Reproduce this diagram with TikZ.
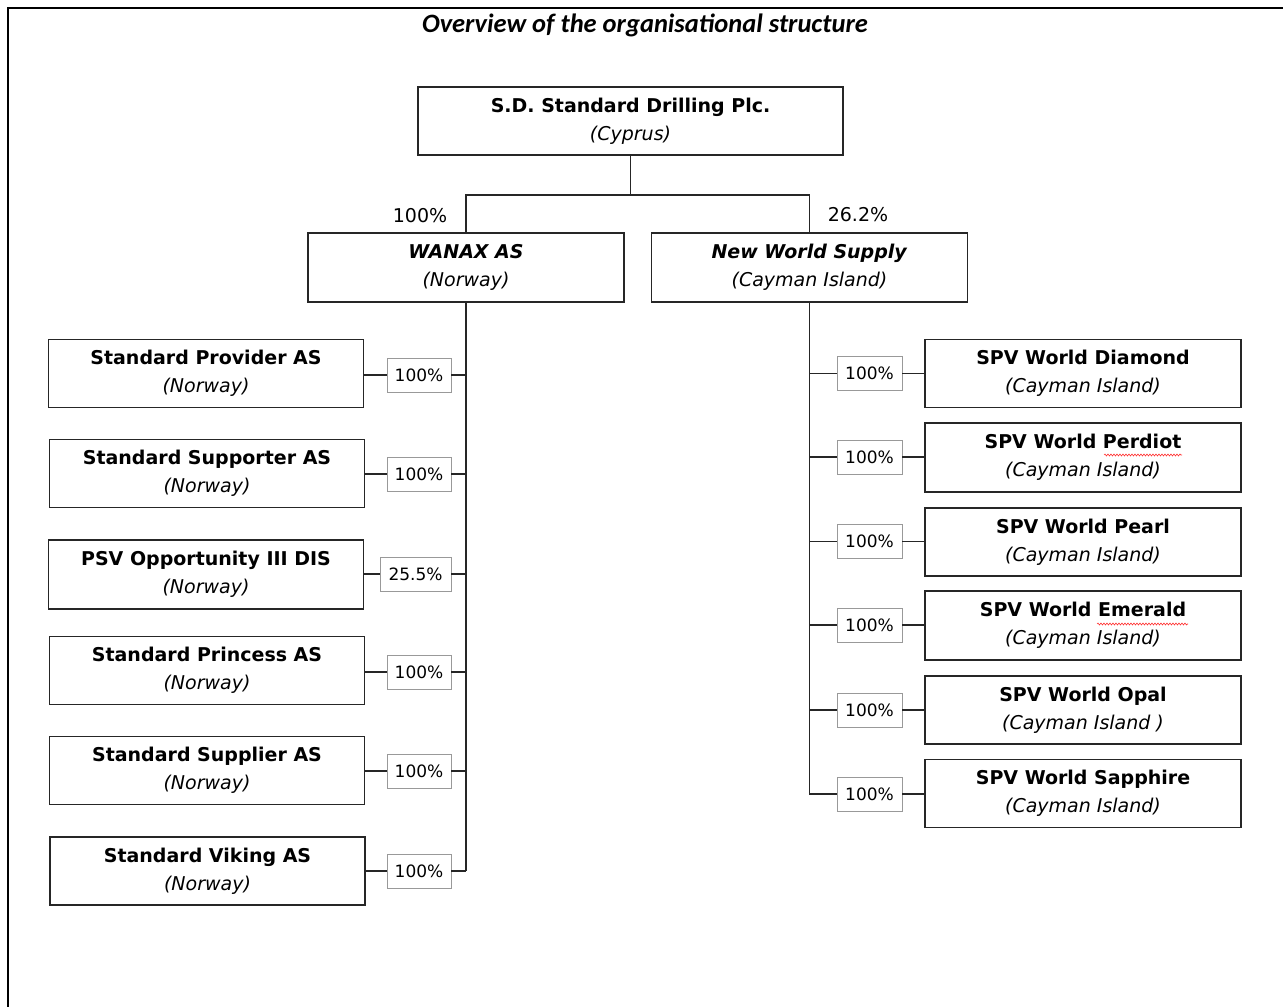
\documentclass[tikz,border=0pt]{standalone}
\usepackage{fontspec}
\setmainfont{DejaVu Sans}
\newfontfamily\titlefont{Carlito}
\usetikzlibrary{decorations.pathmorphing}
\begin{document}
\begin{tikzpicture}[x=1pt,y=-1pt,
  box/.style={draw=black!85, line width=1.3pt, minimum height=68, inner sep=0pt, align=center, font=\fontsize{19}{28}\selectfont},
  lbox/.style={box, minimum width=315},
  rbox/.style={box, minimum width=316},
  pct/.style={draw=black!40, line width=0.9pt, minimum width=64, minimum height=34, inner sep=0pt, font=\fontsize{17}{17}\selectfont},
  conn/.style={draw=black!85, line width=1.3pt},
  toplbl/.style={font=\fontsize{19}{19}\selectfont, inner sep=0pt},
  squig/.style={draw=red!80, line width=0.6pt, decorate, decoration={snake, amplitude=1pt, segment length=3pt}}
]
\useasboundingbox (0,0) rectangle (1283,1007);
\draw[line width=1.6pt] (8,1007) -- (8,8) -- (1283,8);
\node[font=\titlefont\fontsize{26.5}{26.5}\selectfont\bfseries\itshape] (title) at (645,25) {Overview of the organisational structure};

\node[box, minimum width=425] (sd) at (630.5,121) {\textbf{S.D. Standard Drilling Plc.}\\\textit{(Cyprus)}};
\node[box, minimum width=316, minimum height=69] (wanax) at (466,267.5) {\textbf{\textit{WANAX AS}}\\\textit{(Norway)}};
\node[box, minimum width=316, minimum height=69] (nws) at (809.5,267.5) {\textbf{\textit{New World Supply}}\\\textit{(Cayman Island)}};
\node[toplbl] (l100) at (420,216) {100\%};
\node[toplbl] (l262) at (858,215) {26.2\%};

\coordinate (j) at (630.5,195);
\draw[conn] (sd.south) -- (j);
\draw[conn] (wanax.north) |- (j) -| (nws.north);

% left subsidiaries
\node[lbox] (p1) at (206,373.5) {\textbf{Standard Provider AS}\\\textit{(Norway)}};
\node[lbox] (p2) at (207,473.5) {\textbf{Standard Supporter AS}\\\textit{(Norway)}};
\node[lbox, minimum height=69] (p3) at (206,574.5) {\textbf{PSV Opportunity III DIS}\\\textit{(Norway)}};
\node[lbox] (p4) at (207,670.5) {\textbf{Standard Princess AS}\\\textit{(Norway)}};
\node[lbox] (p5) at (207,770.5) {\textbf{Standard Supplier AS}\\\textit{(Norway)}};
\node[lbox] (p6) at (207.5,871) {\textbf{Standard Viking AS}\\\textit{(Norway)}};

\node[pct] (q1) at (419,375) {100\%};
\node[pct] (q2) at (419,474) {100\%};
\node[pct, minimum width=71] (q3) at (415.5,574) {25.5\%};
\node[pct] (q4) at (419,672) {100\%};
\node[pct] (q5) at (419,771) {100\%};
\node[pct] (q6) at (419,871) {100\%};

\coordinate (lt) at (466,871);
\draw[conn] (wanax.south) -- (lt);
\foreach \i in {1,...,6}{
  \draw[conn] (p\i.east |- q\i) -- (q\i.west);
  \draw[conn] (q\i.east) -- (q\i -| wanax.south);
}

% right subsidiaries
\node[rbox] (s1) at (1083,373.5) {\textbf{SPV World Diamond}\\\textit{(Cayman Island)}};
\node[rbox, minimum height=69] (s2) at (1083,457.5) {\textbf{SPV World Perdiot}\\\textit{(Cayman Island)}};
\node[rbox] (s3) at (1083,542) {\textbf{SPV World Pearl}\\\textit{(Cayman Island)}};
\node[rbox, minimum height=69] (s4) at (1083,625.5) {\textbf{SPV World Emerald}\\\textit{(Cayman Island)}};
\node[rbox] (s5) at (1083,710) {\textbf{SPV World Opal}\\\textit{(Cayman Island )}};
\node[rbox] (s6) at (1083,793.5) {\textbf{SPV World Sapphire}\\\textit{(Cayman Island)}};

\node[pct, minimum width=65] (r1) at (869.5,373.5) {100\%};
\node[pct, minimum width=65] (r2) at (869.5,457) {100\%};
\node[pct, minimum width=65] (r3) at (869.5,541.5) {100\%};
\node[pct, minimum width=65] (r4) at (869.5,625) {100\%};
\node[pct, minimum width=65] (r5) at (869.5,710) {100\%};
\node[pct, minimum width=65] (r6) at (869.5,794) {100\%};

\draw[conn] (nws.south) |- (r6.west);
\foreach \i in {1,...,5}{
  \draw[conn] (r\i -| nws.south) -- (r\i.west);
}
\foreach \i in {1,...,6}{
  \draw[conn] (r\i.east) -- (s\i.west |- r\i);
}

% spell-check underlines
\draw[squig] (1104,455) -- (1182,455);
\draw[squig] (1097,624) -- (1188,624);
\end{tikzpicture}
\end{document}
